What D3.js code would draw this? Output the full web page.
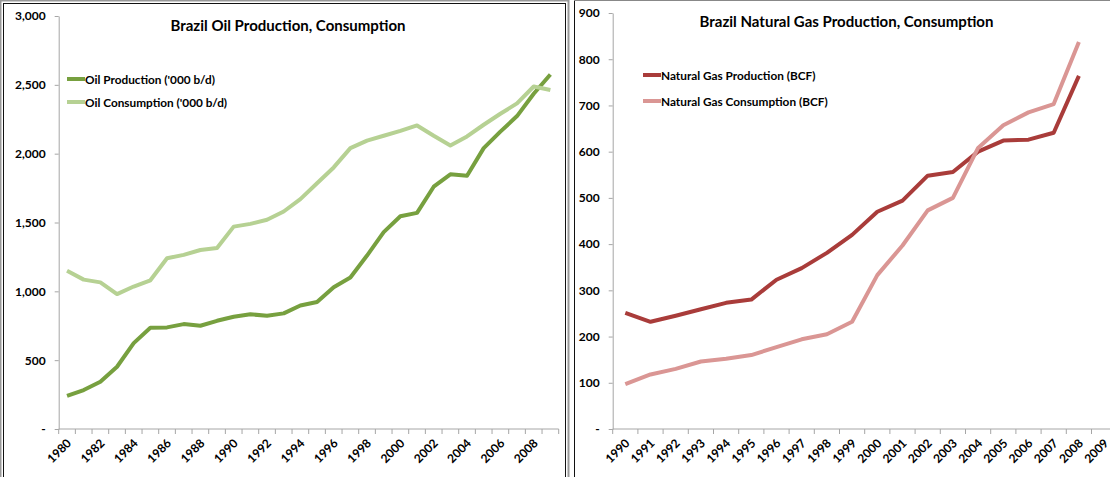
<!DOCTYPE html>
<html>
<head>
<meta charset="utf-8">
<script src="https://cdn.jsdelivr.net/npm/d3@7/dist/d3.min.js"></script>
<style>
body { margin: 0; background: #fff; }
text { font-family: Lato, "Open Sans", sans-serif; font-weight: bold; fill: #000; }
</style>
</head>
<body>
<svg id="chart" width="1110" height="477"></svg>
<script>
// oil chart data ('000 b/d)
var oilYears = [1980,1981,1982,1983,1984,1985,1986,1987,1988,1989,1990,1991,1992,1993,1994,
                1995,1996,1997,1998,1999,2000,2001,2002,2003,2004,2005,2006,2007,2008,2009];
var oilProduction = [240,283,343,452,624,736,738,762,750,786,815,833,823,840,897,
                     922,1030,1100,1260,1430,1545,1570,1760,1850,1840,2040,2160,2273,2435,2575];
var oilConsumption = [1150,1085,1065,980,1035,1080,1240,1265,1300,1315,1470,1490,1520,1580,1670,
                      1785,1900,2040,2095,2130,2165,2205,2130,2060,2125,2210,2290,2365,2488,2462];
var oilTicks = [0,500,1000,1500,2000,2500,3000];

// natural gas chart data (BCF)
var gasYears = [1990,1991,1992,1993,1994,1995,1996,1997,1998,1999,
                2000,2001,2002,2003,2004,2005,2006,2007,2008,2009];
var gasProduction = [251,232,245,259,273,280,323,348,381,420,470,494,548,556,600,624,626,641,764];
var gasConsumption = [97,118,130,146,152,160,177,194,205,232,333,397,473,500,608,657,685,703,837];
var gasTicks = [0,100,200,300,400,500,600,700,800,900];

var svg = d3.select("#chart");

// panel frames
svg.append("rect").attr("x", 0.5).attr("y", 0.5).attr("width", 568).attr("height", 490)
    .attr("fill", "none").attr("stroke", "#999").attr("stroke-width", 2);
svg.append("rect").attr("x", 3.5).attr("y", 3.5).attr("width", 562).attr("height", 490)
    .attr("fill", "none").attr("stroke", "#111");
svg.append("rect").attr("x", 574.5).attr("y", 0.5).attr("width", 560).attr("height", 490)
    .attr("fill", "none").attr("stroke", "#111");
svg.append("line").attr("x1", 574).attr("x2", 1110).attr("y1", 0.5).attr("y2", 0.5)
    .attr("stroke", "#888");

function drawPanel(p) {
    var x = d3.scaleBand().domain(p.years).range([p.left, p.right]).padding(0);
    var y = d3.scaleLinear().domain([0, p.max]).range([429, p.top]);
    var g = svg.append("g");

    // y axis
    var yAxis = d3.axisLeft(y).tickValues(p.ticks).tickSize(4).tickSizeOuter(0).tickPadding(9)
        .tickFormat(function(d){ return d === 0 ? "-" : d3.format(",")(d); });
    var ya = g.append("g").attr("transform", "translate(" + p.left + ",0)").call(yAxis);
    ya.select(".domain").attr("stroke", "#a6a6a6");
    ya.selectAll(".tick line").attr("stroke", "#a6a6a6");
    ya.selectAll("text").style("font-size", "12px");

    // x axis line + boundary ticks
    g.append("line").attr("x1", p.left).attr("x2", p.right).attr("y1", 429).attr("y2", 429)
        .attr("stroke", "#a6a6a6");
    g.selectAll(".xt").data(p.years.concat(["end"])).enter().append("line")
        .attr("x1", function(d){ return d === "end" ? p.right : x(d); })
        .attr("x2", function(d){ return d === "end" ? p.right : x(d); })
        .attr("y1", 429).attr("y2", 434).attr("stroke", "#a6a6a6");

    // rotated year labels
    var xAxis = d3.axisBottom(x).tickSize(0).tickValues(p.labelYears);
    var xa = g.append("g").attr("transform", "translate(0,429)").call(xAxis);
    xa.select(".domain").remove();
    xa.selectAll("text")
        .style("font-size", "12px")
        .attr("text-anchor", "end")
        .attr("dy", 0)
        .attr("y", 0)
        .attr("transform", "translate(5,15) rotate(-45)");

    // lines
    var line = d3.line()
        .x(function(d, i){ return x(p.years[i]) + x.bandwidth() / 2; })
        .y(function(d){ return y(d); });
    p.series.forEach(function(s){
        g.append("path").datum(s.values)
            .attr("d", line).attr("fill", "none")
            .attr("stroke", s.color).attr("stroke-width", 4)
            .attr("stroke-linejoin", "round");
    });

    // legend
    p.series.forEach(function(s, i){
        var ly = p.legendY + i * p.legendStep;
        g.append("line").attr("x1", p.legendX).attr("x2", p.legendX + 18)
            .attr("y1", ly).attr("y2", ly)
            .attr("stroke", s.color).attr("stroke-width", 4);
        g.append("text").attr("x", p.legendX + 18).attr("y", ly + 4.5)
            .style("font-size", "11.8px").text(s.name);
    });

    // title
    g.append("text").attr("x", p.titleX).attr("y", p.titleY)
        .attr("text-anchor", "middle").style("font-size", "15px").text(p.title);
}

drawPanel({
    years: oilYears, left: 58.7, right: 558.7, top: 16, max: 3000, ticks: oilTicks,
    labelYears: oilYears.filter(function(d, i){ return i % 2 === 0; }),
    series: [
        {name: "Oil Production ('000 b/d)", values: oilProduction, color: "#77a03f"},
        {name: "Oil Consumption ('000 b/d)", values: oilConsumption, color: "#b6d193"}
    ],
    legendX: 67, legendY: 79, legendStep: 23,
    title: "Brazil Oil Production, Consumption", titleX: 288, titleY: 31
});

drawPanel({
    years: gasYears, left: 612.7, right: 1116.7, top: 13, max: 900, ticks: gasTicks,
    labelYears: gasYears,
    series: [
        {name: "Natural Gas Production (BCF)", values: gasProduction, color: "#a93c3a"},
        {name: "Natural Gas Consumption (BCF)", values: gasConsumption, color: "#da9694"}
    ],
    legendX: 643, legendY: 75, legendStep: 26,
    title: "Brazil Natural Gas Production, Consumption", titleX: 846.5, titleY: 27
});
</script>
</body>
</html>
